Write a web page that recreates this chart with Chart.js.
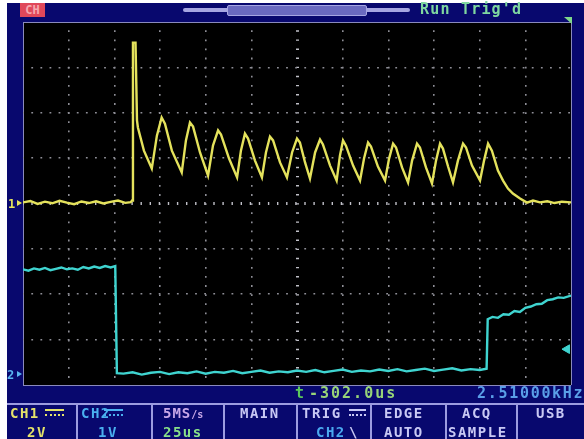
<!DOCTYPE html>
<html>
<head>
<meta charset="utf-8">
<script src="https://cdn.jsdelivr.net/npm/chart.js@4.4.1/dist/chart.umd.min.js"></script>
<style>
  html, body { margin: 0; padding: 0; background: #fff; }
  #scope { position: relative; width: 584px; height: 439px; overflow: hidden; }
  #scope canvas { position: absolute; left: 0; top: 0; }
  .lbl { position: absolute; font-family: "DejaVu Sans Mono", monospace; font-weight: bold;
         font-size: 14px; line-height: 14px; letter-spacing: 1.5px; white-space: pre; color: #c8c8f4; }
  .big { font-size: 15px; line-height: 15px; letter-spacing: 2px; }
  .sep { position: absolute; background: #9c9ce0; }
  .dc { position: absolute; width: 19px; height: 3px; border-top: 2px solid; border-bottom: 2px dotted; }
</style>
</head>
<body>
<div id="scope">
  <canvas id="scopeChart" width="584" height="439"></canvas>

  <!-- top bar -->
  <div class="lbl" style="left:20px;top:3px;width:25px;height:14px;background:#e0485a;color:#f6a8b0;font-size:12px;letter-spacing:0;text-align:center;">CH</div>
  <div style="position:absolute;left:183px;top:8px;width:227px;height:4px;background:#a6a6e2;border-radius:2px;"></div>
  <div style="position:absolute;left:227px;top:5px;width:138px;height:9px;background:#6a6ac0;border:1px solid #a6a6e2;border-radius:2px;"></div>
  <div class="lbl big" style="left:420px;top:2px;color:#7fd8a0;letter-spacing:1.2px;">Run Trig'd</div>
  <div style="position:absolute;left:564px;top:17px;width:8px;height:7px;background:#7fd88a;clip-path:polygon(0 0,100% 0,100% 100%);"></div>

  <!-- channel ground markers -->
  <div class="lbl" style="left:8px;top:197px;color:#e4e25c;font-size:12px;letter-spacing:0;">1</div>
  <div style="position:absolute;left:17px;top:200px;width:5px;height:6px;background:#e4e25c;clip-path:polygon(0 0,100% 50%,0 100%);"></div>
  <div class="lbl" style="left:7px;top:368px;color:#5ab4f0;font-size:12px;letter-spacing:0;">2</div>
  <div style="position:absolute;left:17px;top:371px;width:5px;height:6px;background:#5ab4f0;clip-path:polygon(0 0,100% 50%,0 100%);"></div>

  <!-- status line -->
  <div class="lbl big" style="left:295px;top:386px;color:#5cc85c;">t</div>
  <div class="lbl big" style="left:309px;top:386px;color:#98d478;">-302.0us</div>
  <div class="lbl big" style="left:477px;top:386px;color:#5a9ee8;letter-spacing:1.7px;">2.51000kHz</div>

  <!-- menu bar -->
  <div class="sep" style="left:7px;top:403px;width:577px;height:2px;"></div>
  <div class="sep" style="left:76px;top:403px;width:2px;height:36px;"></div>
  <div class="sep" style="left:151px;top:403px;width:2px;height:36px;"></div>
  <div class="sep" style="left:223px;top:403px;width:2px;height:36px;"></div>
  <div class="sep" style="left:296px;top:403px;width:2px;height:36px;"></div>
  <div class="sep" style="left:370px;top:403px;width:2px;height:36px;"></div>
  <div class="sep" style="left:445px;top:403px;width:2px;height:36px;"></div>
  <div class="sep" style="left:516px;top:403px;width:2px;height:36px;"></div>

  <div class="lbl" style="left:10px;top:406px;color:#e4e26a;">CH1</div>
  <div class="dc" style="left:45px;top:409px;color:#e4e26a;"></div>
  <div class="lbl" style="left:27px;top:425px;color:#e4e26a;">2V</div>

  <div class="lbl" style="left:81px;top:406px;color:#4ab0f0;">CH2</div>
  <div class="dc" style="left:104px;top:409px;color:#4ab0f0;"></div>
  <div class="lbl" style="left:98px;top:425px;color:#4ab0f0;">1V</div>

  <div class="lbl" style="left:163px;top:406px;color:#c8a8e8;letter-spacing:1px;">5MS<span style="font-size:10px;letter-spacing:0;">/s</span></div>
  <div class="lbl" style="left:163px;top:425px;color:#88e088;">25us</div>

  <div class="lbl" style="left:240px;top:406px;">MAIN</div>

  <div class="lbl" style="left:302px;top:406px;">TRIG</div>
  <div class="dc" style="left:349px;top:409px;color:#c8c8f4;width:17px;"></div>
  <div class="lbl" style="left:316px;top:425px;color:#4aa8f0;">CH2</div>
  <div class="lbl" style="left:349px;top:425px;">\</div>

  <div class="lbl" style="left:384px;top:406px;">EDGE</div>
  <div class="lbl" style="left:384px;top:425px;">AUTO</div>

  <div class="lbl" style="left:462px;top:406px;">ACQ</div>
  <div class="lbl" style="left:448px;top:425px;">SAMPLE</div>

  <div class="lbl" style="left:536px;top:406px;">USB</div>
</div>

<script>
// time in microseconds, 0 = screen centre, 25 us/div
const timeTicks = [-150, 150, 25];
// CH1: 2 V/div, ground at centre
const ch1Range = [-8, 8, 2];
// CH2: 1 V/div, ground 0.24 div above the bottom
const ch2Range = [-0.24, 7.76];

const ch1Time = [
    -150, -146, -142, -138, -134, -130, -126, -122, -118, -114, -110, -106, -102, -98, -94, -91,
    -90.3, -89.8, -88.4, -87.6, -87.1, -83.8, -79.5, -76.7, -74.1, -72.3, -68.5, -63.1,
    -60.8, -58.6, -56.9, -53.1, -48.7, -46.0, -43.2, -41.6, -37.2, -32.8,
    -30.7, -28.5, -26.8, -23.0, -19.2, -17.0, -14.8, -13.1, -9.3, -5.5,
    -2.7, 0, 1.6, 4.4, 7.1, 9.9, 12.6, 14.2, 18.1, 21.7,
    23.5, 25.2, 26.8, 30.7, 34.5, 36.7, 38.9, 40.5, 44.3, 48.2,
    50.4, 52.6, 54.2, 57.5, 60.8, 63.0, 65.7, 67.3, 70.6, 73.9,
    76.1, 78.3, 79.9, 82.7, 85.4, 88.1, 90.9, 92.5, 95.8, 100.2,
    102.4, 104.6, 106.7, 110.0, 112.8, 115.5, 118.2, 122.1, 125.9, 129.2,
    133, 137, 141, 145, 150
];
const ch1Volts = [
    0.05, 0.11, -0.02, 0.08, 0.01, 0.12, 0.04, -0.03, 0.09, 0.02, 0.10, 0.00, 0.07, 0.13, 0.03, 0.06,
    0.13, 7.09, 7.09, 3.66, 3.35, 2.33, 1.54, 2.99, 3.79, 3.52, 2.33, 1.37,
    2.78, 3.57, 3.39, 2.25, 1.23, 2.55, 3.22, 3.04, 1.98, 1.15,
    2.33, 3.08, 2.86, 1.89, 1.15, 2.25, 2.95, 2.78, 1.81, 1.15,
    2.25, 2.86, 2.69, 1.81, 1.10, 2.25, 2.82, 2.60, 1.67, 1.01,
    2.11, 2.78, 2.55, 1.67, 1.01, 1.98, 2.69, 2.51, 1.63, 1.01,
    1.98, 2.64, 2.47, 1.59, 0.93, 1.89, 2.64, 2.47, 1.59, 0.88,
    1.89, 2.64, 2.42, 1.63, 0.93, 1.89, 2.64, 2.47, 1.67, 1.01,
    1.89, 2.64, 2.33, 1.45, 1.01, 0.66, 0.44, 0.22, 0.04, 0.13,
    0.05, 0.10, 0.02, 0.08, 0.05
];

const ch2Time = [
    -150, -147, -144, -141, -138, -135, -132, -129, -126, -123, -120, -117, -114, -111, -108, -105, -102, -99.5,
    -98.6,
    -95, -90, -85, -80, -75, -70, -65, -60, -55, -50, -45, -40, -35, -30, -25, -20, -15, -10, -5, 0,
    5, 10, 15, 20, 25, 30, 35, 40, 45, 50, 55, 60, 65, 70, 75, 80, 85, 90, 95, 100, 103.8,
    104.4,
    107, 110, 113, 116, 119, 122, 125, 128, 131, 134, 137, 140, 143, 146, 150
];
const ch2Volts = [
    2.31, 2.28, 2.33, 2.30, 2.34, 2.29, 2.32, 2.35, 2.31, 2.33, 2.30, 2.36, 2.33, 2.37, 2.34, 2.38, 2.35, 2.38,
    0.02,
    0.01, 0.04, -0.01, 0.03, 0.05, 0.00, 0.04, 0.02, 0.06, 0.01, 0.05, 0.03, 0.07, 0.02, 0.05, 0.08, 0.03, 0.06, 0.04, 0.08,
    0.05, 0.09, 0.04, 0.07, 0.10, 0.05, 0.08, 0.06, 0.10, 0.07, 0.11, 0.06, 0.09, 0.12, 0.07, 0.10, 0.13, 0.08, 0.11, 0.09, 0.12,
    1.21,
    1.26, 1.24, 1.32, 1.31, 1.39, 1.37, 1.46, 1.49, 1.54, 1.55, 1.63, 1.65, 1.69, 1.68, 1.73
];

// CH2 trigger level marker (right edge)
const trigTime = [147.8];
const trigLevel = [0.55];

const toPoints = (xs, ys) => xs.map((x, i) => ({ x: x, y: ys[i] }));

// scope screen: navy frame, black graticule area
const screenBg = {
    id: 'screenBg',
    beforeDraw(chart) {
        const { ctx, chartArea: a } = chart;
        ctx.save();
        ctx.fillStyle = '#08086e';
        ctx.fillRect(7, 3, chart.width - 7, chart.height - 3);
        ctx.fillStyle = '#000';
        ctx.fillRect(a.left, a.top, a.right - a.left, a.bottom - a.top);
        ctx.restore();
    }
};

// dotted graticule: 5 dots per division, solid frame
function gridLook(lo, hi) {
    const edge = v => v === lo || v === hi;
    return {
        grid: {
            drawTicks: false,
            color: c => !c.tick ? '#000' : edge(c.tick.value) ? '#8a8abc' : c.tick.value === 0 ? '#c0c0c8' : '#8e8e96',
            lineWidth: c => !c.tick ? 1 : c.tick.value === 0 ? 3 : edge(c.tick.value) ? 1 : 1.6
        },
        border: {
            display: false,
            dash: c => {
                if (!c.tick || edge(c.tick.value)) return [];
                return c.tick.value === 0 ? [1.4, 7.7] : [1.8, 7.3];
            },
            dashOffset: 0.8
        }
    };
}

const ctxScope = document.getElementById('scopeChart').getContext('2d');
const scopeChart = new Chart(ctxScope, {
    type: 'scatter',
    data: {
        datasets: [
            {
                label: 'CH1',
                data: toPoints(ch1Time, ch1Volts),
                showLine: true,
                borderColor: '#e4e25c',
                borderWidth: 2.4,
                pointRadius: 0,
                yAxisID: 'y'
            },
            {
                label: 'CH2',
                data: toPoints(ch2Time, ch2Volts),
                showLine: true,
                borderColor: '#3fd4d0',
                borderWidth: 2.4,
                pointRadius: 0,
                yAxisID: 'y2'
            },
            {
                label: 'Trig',
                data: toPoints(trigTime, trigLevel),
                pointStyle: 'triangle',
                rotation: 270,
                pointRadius: 5,
                backgroundColor: '#3fd4d0',
                borderColor: '#3fd4d0',
                clip: false,
                yAxisID: 'y2'
            }
        ]
    },
    options: {
        responsive: false,
        animation: false,
        devicePixelRatio: 1,
        layout: { padding: { left: 23, right: 13, top: 22, bottom: 54 } },
        plugins: { legend: { display: false }, tooltip: { enabled: false } },
        scales: {
            x: Object.assign({
                type: 'linear',
                min: timeTicks[0],
                max: timeTicks[1],
                ticks: { stepSize: timeTicks[2], display: false }
            }, gridLook(timeTicks[0], timeTicks[1])),
            y: Object.assign({
                type: 'linear',
                min: ch1Range[0],
                max: ch1Range[1],
                ticks: { stepSize: ch1Range[2], display: false }
            }, gridLook(ch1Range[0], ch1Range[1])),
            y2: {
                type: 'linear',
                display: false,
                min: ch2Range[0],
                max: ch2Range[1]
            }
        }
    },
    plugins: [screenBg]
});
</script>
</body>
</html>
